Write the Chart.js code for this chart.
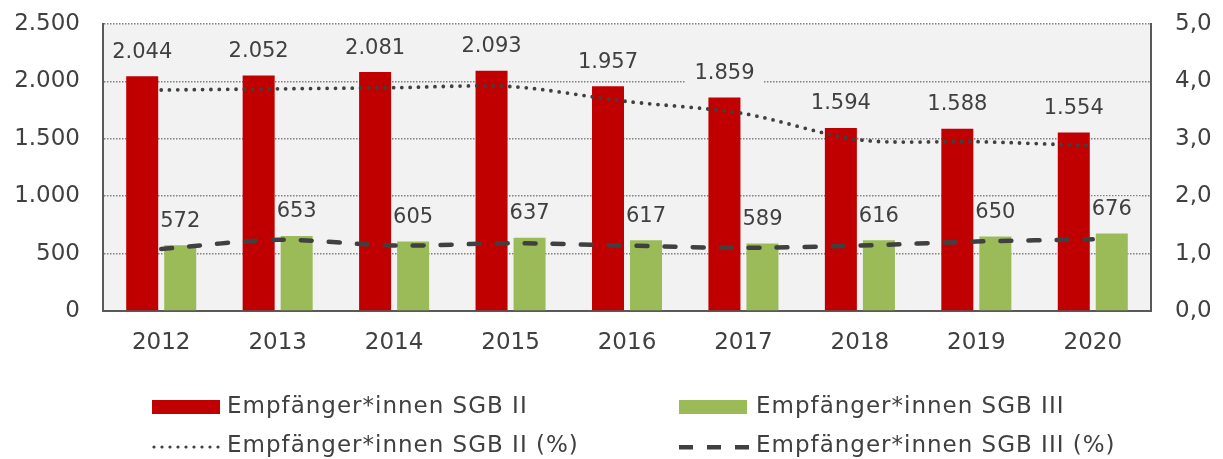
<!DOCTYPE html>
<html><head><meta charset="utf-8">
<script src="https://cdn.jsdelivr.net/npm/chart.js@4.4.1/dist/chart.umd.min.js"></script>
<style>html,body{margin:0;padding:0;background:#fff;overflow:hidden}</style>
</head><body>
<canvas id="c" width="1223" height="459"></canvas>
<script>
const years = ['2012','2013','2014','2015','2016','2017','2018','2019','2020'];
const sgb2 = [2044,2052,2081,2093,1957,1859,1594,1588,1554];
const sgb3 = [572,653,605,637,617,589,616,650,676];
const sgb2Pct = [3.85,3.87,3.89,3.91,3.65,3.44,2.98,2.95,2.88];
const sgb3Pct = [1.08,1.24,1.14,1.18,1.14,1.10,1.14,1.21,1.25];
const leftTicks = ['0','500','1.000','1.500','2.000','2.500'];
const rightTicks = ['0,0','1,0','2,0','3,0','4,0','5,0'];
const seriesNames = ['Empfänger*innen SGB II','Empfänger*innen SGB III','Empfänger*innen SGB II (%)','Empfänger*innen SGB III (%)'];

const FONT = 'Verdana, "DejaVu Sans", sans-serif';
const TXT = '#404040';
const RED = '#c00000', GREEN = '#9bbb59';

const bgPlugin = {
  id: 'bg',
  beforeDraw(chart) {
    const {ctx, chartArea: a} = chart;
    ctx.save();
    ctx.fillStyle = '#f2f2f2';
    ctx.fillRect(a.left, a.top, a.right - a.left, a.bottom - a.top);
    ctx.restore();
  }
};

function labelItems(chart) {
  const items = [];
  [0, 1].forEach(di => {
    const meta = chart.getDatasetMeta(di);
    meta.data.forEach((el, i) => {
      items.push({x: el.x, y: el.y - 24, text: chart.data.datasets[di].data[i].toLocaleString('de-DE')});
    });
  });
  return items;
}

const labelPlugin = {
  id: 'labels',
  beforeDatasetsDraw(chart) {
    const ctx = chart.ctx, a = chart.chartArea;
    ctx.save();
    ctx.beginPath();
    ctx.rect(a.left + 2, a.top, a.right - a.left - 4, a.bottom - a.top);
    ctx.clip();
    ctx.font = '21px ' + FONT;
    ctx.fillStyle = '#f2f2f2';
    labelItems(chart).forEach(it => {
      const w = ctx.measureText(it.text).width + 18;
      ctx.fillRect(it.x - w / 2, it.y - 13, w, 27);
    });
    ctx.restore();
  },
  afterDatasetsDraw(chart) {
    const ctx = chart.ctx;
    ctx.save();
    ctx.font = '21px ' + FONT;
    ctx.fillStyle = TXT;
    ctx.textAlign = 'center';
    ctx.textBaseline = 'middle';
    labelItems(chart).forEach(it => ctx.fillText(it.text, it.x, it.y));
    ctx.restore();
  }
};

const legendPlugin = {
  id: 'customLegend',
  afterDraw(chart) {
    const ctx = chart.ctx;
    const cols = [152, 679];
    const rows = [407, 446];
    const sw = 68;
    ctx.save();
    ctx.font = '23px ' + FONT;
    ctx.textBaseline = 'middle';
    ctx.letterSpacing = '1px';
    const entries = [
      {c: 0, r: 0, type: 'box', color: RED, label: seriesNames[0]},
      {c: 1, r: 0, type: 'box', color: GREEN, label: seriesNames[1]},
      {c: 0, r: 1, type: 'dot', label: seriesNames[2]},
      {c: 1, r: 1, type: 'dash', label: seriesNames[3]}
    ];
    entries.forEach(e => {
      const x = cols[e.c], y = rows[e.r];
      if (e.type === 'box') {
        ctx.fillStyle = e.color;
        ctx.fillRect(x, y - 7, sw, 14);
      } else if (e.type === 'dot') {
        ctx.fillStyle = '#404040';
        for (let k = 0; k < 9; k++) {
          ctx.beginPath();
          ctx.arc(x + 2 + k * 8, y + 1, 1.6, 0, Math.PI * 2);
          ctx.fill();
        }
      } else {
        ctx.fillStyle = '#404040';
        for (let k = 0; k < 3; k++) ctx.fillRect(x + k * 28, y - 1, 14, 4.5);
      }
      ctx.fillStyle = TXT;
      ctx.fillText(e.label, x + sw + (e.c === 0 ? 7 : 9), y);
    });
    ctx.restore();
  }
};

Chart.defaults.font.family = FONT;
Chart.defaults.color = TXT;

function fixV(width) {
  return function(s) { s.width = width; s.paddingTop = 10; s.paddingBottom = 10; };
}

new Chart(document.getElementById('c'), {
  data: {
    labels: years,
    datasets: [
      {type: 'bar', label: seriesNames[0], data: sgb2, backgroundColor: RED, yAxisID: 'y', order: 2,
       categoryPercentage: 0.653, barPercentage: 0.842},
      {type: 'bar', label: seriesNames[1], data: sgb3, backgroundColor: GREEN, yAxisID: 'y', order: 2,
       categoryPercentage: 0.653, barPercentage: 0.842},
      {type: 'line', label: seriesNames[2], data: sgb2Pct, yAxisID: 'y2', order: 0,
       borderColor: '#404040', borderWidth: 3.8, borderDash: [0, 8.3], borderCapStyle: 'round',
       pointRadius: 0, tension: 0.3, fill: false},
      {type: 'line', label: seriesNames[3], data: sgb3Pct, yAxisID: 'y2', order: 0,
       borderColor: '#404040', borderWidth: 4.5, borderDash: [11, 17], borderCapStyle: 'round',
       pointRadius: 0, tension: 0.3, fill: false}
    ]
  },
  options: {
    responsive: false,
    devicePixelRatio: 1,
    animation: false,
    layout: {padding: {left: 0, right: 0, top: 24, bottom: 98}},
    plugins: {legend: {display: false}, tooltip: {enabled: false}},
    scales: {
      x: {
        grid: {display: false},
        border: {display: true, color: '#595959', width: 2},
        ticks: {font: {size: 23}, color: TXT, padding: 10},
        afterFit(s) { s.height = 50; }
      },
      y: {
        position: 'left', min: 0, max: 2500,
        ticks: {stepSize: 500, font: {size: 23}, color: TXT, padding: 23,
                callback: (v, i) => leftTicks[i]},
        grid: {color: '#808080', lineWidth: 1.5, drawTicks: false},
        border: {display: true, color: '#595959', width: 2, dash: [1.5, 1.5]},
        afterFit: fixV(103)
      },
      y2: {
        position: 'right', min: 0, max: 5,
        ticks: {stepSize: 1, font: {size: 23}, color: TXT, padding: 24,
                callback: (v, i) => rightTicks[i]},
        grid: {display: true, drawOnChartArea: false, drawTicks: false},
        border: {display: true, color: '#595959', width: 2},
        afterFit: fixV(72)
      }
    }
  },
  plugins: [bgPlugin, labelPlugin, legendPlugin]
});
</script>
</body></html>
